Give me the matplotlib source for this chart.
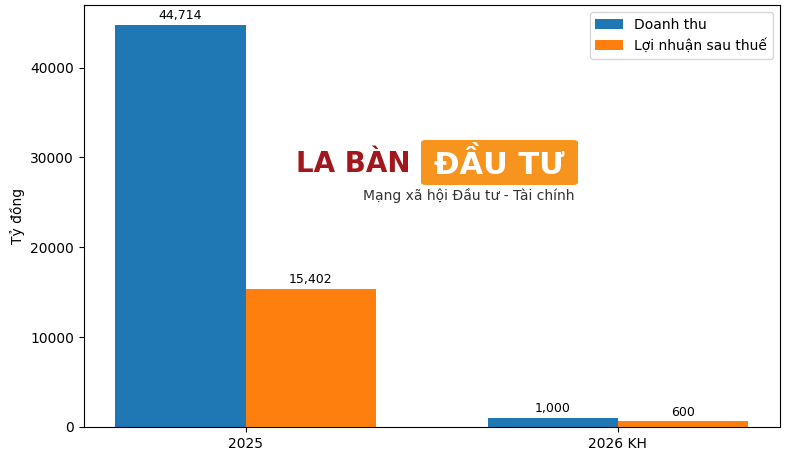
import matplotlib
matplotlib.use("Agg")
import matplotlib.pyplot as plt
import numpy as np
from matplotlib.patches import FancyBboxPatch

categories = ["2025", "2026 KH"]
revenue = [44714, 1000]
profit = [15402, 600]
series_names = ["Doanh thu", "Lợi nhuận sau thuế"]
ylabel = "Tỷ đồng"

fig, ax = plt.subplots(figsize=(7.9, 4.61), dpi=100)
fig.subplots_adjust(left=0.106, right=0.987, top=0.989, bottom=0.074)

x = np.arange(len(categories))
w = 0.35
b1 = ax.bar(x - w / 2, revenue, w, label=series_names[0], color="#1f77b4")
b2 = ax.bar(x + w / 2, profit, w, label=series_names[1], color="#ff7f0e")
for bars in (b1, b2):
    ax.bar_label(bars, labels=[f"{v:,}" for v in bars.datavalues], padding=2, fontsize=9)

ax.set_xticks(x)
ax.set_xticklabels(categories)
ax.set_ylabel(ylabel)
ax.legend(loc="upper right")

# watermark logo approximation
W, H = 790, 461
def fx(px):
    return px / W
def fy(py):
    return 1 - py / H

box = FancyBboxPatch((fx(421), fy(185)), fx(578) - fx(421), fy(140) - fy(185),
                     boxstyle="round,pad=0,rounding_size=0.006",
                     transform=fig.transFigure, facecolor="#f7941d",
                     edgecolor="none", zorder=5)
fig.patches.append(box)
fig.text(fx(296), fy(164), "LA BÀN", fontsize=20, fontweight="bold",
         color="#a3161b", va="center", ha="left", zorder=6)
fig.text(fx(499), fy(164), "ĐẦU TƯ", fontsize=22, fontweight="bold",
         color="white", va="center", ha="center", zorder=6)
fig.text(fx(363), fy(195), "Mạng xã hội Đầu tư - Tài chính", fontsize=10,
         color="#333333", va="center", ha="left", zorder=6)

fig.savefig("out.png", dpi=100)
